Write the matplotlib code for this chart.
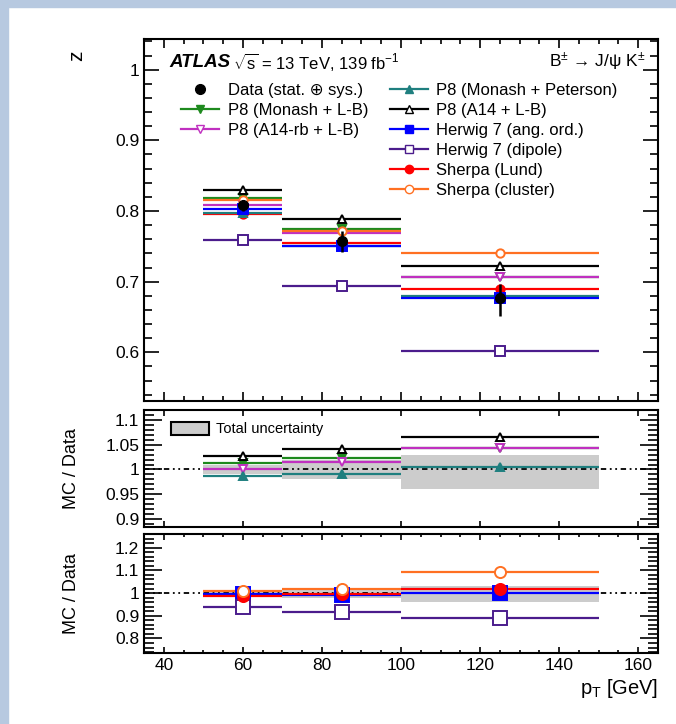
import matplotlib
matplotlib.use("Agg")
import matplotlib.pyplot as plt
from matplotlib.lines import Line2D
from matplotlib.patches import Patch, Rectangle
from matplotlib.ticker import MultipleLocator, FuncFormatter
import numpy as np

plt.rcParams["font.family"] = ["Liberation Sans", "DejaVu Sans"]
plt.rcParams["mathtext.fontset"] = "custom"
plt.rcParams["mathtext.rm"] = "Liberation Sans"
plt.rcParams["mathtext.it"] = "Liberation Sans:italic"
plt.rcParams["mathtext.bf"] = "Liberation Sans:bold"

# pT bins [GeV]
bin_edges = np.array([50, 70, 100, 150])

# mean z per bin
data_z = np.array([0.808, 0.757, 0.677])
data_err_up = np.array([0.008, 0.015, 0.020])
data_err_dn = np.array([0.008, 0.015, 0.026])

p8_monash_lb = np.array([0.818, 0.775, 0.707])
p8_a14rb_lb = np.array([0.809, 0.769, 0.706])
p8_monash_pet = np.array([0.797, 0.750, 0.680])
p8_a14_lb = np.array([0.830, 0.788, 0.722])
hw7_angord = np.array([0.803, 0.750, 0.677])
hw7_dipole = np.array([0.759, 0.694, 0.602])
sherpa_lund = np.array([0.796, 0.754, 0.689])
sherpa_cluster = np.array([0.816, 0.772, 0.741])

# (label, values, colour, marker, open marker?)
p8_models = [
    ("P8 (Monash + L-B)", p8_monash_lb, "#1e8a1e", "v", False),
    ("P8 (A14-rb + L-B)", p8_a14rb_lb, "#c030c0", "v", True),
    ("P8 (Monash + Peterson)", p8_monash_pet, "#1f7f7f", "^", False),
    ("P8 (A14 + L-B)", p8_a14_lb, "#000000", "^", True),
]
other_models = [
    ("Herwig 7 (ang. ord.)", hw7_angord, "#0000ff", "s", False),
    ("Herwig 7 (dipole)", hw7_dipole, "#4b1c8c", "s", True),
    ("Sherpa (Lund)", sherpa_lund, "#ff0000", "o", False),
    ("Sherpa (cluster)", sherpa_cluster, "#ff7022", "o", True),
]

centers = 0.5 * (bin_edges[:-1] + bin_edges[1:])
halfw = 0.5 * np.diff(bin_edges)

W, H = 676, 724
fig = plt.figure(figsize=(W / 100, H / 100), dpi=100)
fig.patches.append(Rectangle((0, 0), 8 / W, 1, transform=fig.transFigure,
                             color="#b7c9e0", zorder=-10))
fig.patches.append(Rectangle((0, 1 - 7 / H), 1, 7 / H, transform=fig.transFigure,
                             color="#b7c9e0", zorder=-10))


def axes_px(top, bottom, left=144, right=658):
    return fig.add_axes([left / W, 1 - bottom / H, (right - left) / W, (bottom - top) / H])


ax = axes_px(39, 401)
ax_r1 = axes_px(410, 527)
ax_r2 = axes_px(534, 653)

fmt = FuncFormatter(lambda v, p: f"{v:g}")


def draw_model(a, vals, color, marker, hollow, ms=6):
    if marker == "s":
        ms += 1.5
    a.errorbar(centers, vals, xerr=halfw, fmt=marker, color=color, ms=ms,
               mfc="white" if hollow else color, mec=color, mew=1.4,
               lw=1.6, capsize=0, zorder=3)


# ── main panel ──
draw_order = [other_models[2], p8_models[2], other_models[0], p8_models[0],
              p8_models[1], other_models[3], p8_models[3], other_models[1]]
for label, vals, color, marker, hollow in draw_order:
    draw_model(ax, vals, color, marker, hollow)
ax.errorbar(centers, data_z, yerr=[data_err_dn, data_err_up], fmt="o", color="k",
            ms=7, lw=1.8, capsize=0, zorder=5)

ax.set_xlim(35, 165)
ax.set_ylim(0.531, 1.0435)
ax.yaxis.set_major_locator(MultipleLocator(0.1))
ax.yaxis.set_minor_locator(MultipleLocator(0.02))
ax.xaxis.set_major_locator(MultipleLocator(20))
ax.xaxis.set_minor_locator(MultipleLocator(5))
ax.yaxis.set_major_formatter(fmt)
ax.tick_params(axis="x", labelbottom=False)

ax.text(0.05, 0.936, "ATLAS", transform=ax.transAxes, fontsize=13.5,
        fontweight="bold", fontstyle="italic", va="center")
ax.text(0.173, 0.936, r"$\sqrt{\mathrm{s}}$ = 13 TeV, 139 fb$^{-1}$",
        transform=ax.transAxes, fontsize=12, va="center")
ax.text(0.975, 0.936, r"B$^{\pm}$ → J/ψ K$^{\pm}$", transform=ax.transAxes,
        fontsize=12.5, va="center", ha="right")

left_handles = [Line2D([], [], marker="o", color="k", ls="none", ms=7)]
left_labels = ["Data (stat. ⊕ sys.)"]
for label, vals, color, marker, hollow in p8_models[:2]:
    left_handles.append(Line2D([], [], marker=marker, color=color, lw=1.6, ms=6,
                               mfc="white" if hollow else color, mec=color))
    left_labels.append(label)
right_handles, right_labels = [], []
for label, vals, color, marker, hollow in p8_models[2:] + other_models:
    right_handles.append(Line2D([], [], marker=marker, color=color, lw=1.6, ms=6,
                                mfc="white" if hollow else color, mec=color))
    right_labels.append(label)

leg_kw = dict(frameon=False, fontsize=12, borderpad=0, borderaxespad=0,
              handlelength=2.3, handletextpad=0.5, labelspacing=0.3, loc="upper left")
leg1 = ax.legend(left_handles, left_labels, bbox_to_anchor=(0.072, 0.879), **leg_kw)
ax.add_artist(leg1)
ax.legend(right_handles, right_labels, bbox_to_anchor=(0.478, 0.879), **leg_kw)

fig.text(77 / W, 1 - 56 / H, "z", rotation=90, ha="center", va="center", fontsize=15)

# ── ratio panels ──
rel_up = data_err_up / data_z
rel_dn = data_err_dn / data_z

for a, models in ((ax_r1, p8_models), (ax_r2, other_models)):
    a.bar(centers, rel_up + rel_dn, bottom=1 - rel_dn, width=2 * halfw,
          color="#cccccc", lw=0, zorder=1)
    a.axhline(1.0, color="k", lw=1.3, dashes=(3, 2, 1, 2, 1, 2), zorder=2)
    for label, vals, color, marker, hollow in models:
        draw_model(a, vals / data_z, color, marker, hollow,
                   ms=6 if a is ax_r1 else 8)
    a.set_xlim(35, 165)
    a.xaxis.set_major_locator(MultipleLocator(20))
    a.yaxis.set_major_formatter(fmt)
    a.set_ylabel("MC / Data", fontsize=13)
    a.yaxis.set_label_coords(-0.125, 0.5)

ax_r1.set_ylim(0.884, 1.12)
ax_r1.yaxis.set_major_locator(MultipleLocator(0.05))
ax_r1.yaxis.set_minor_locator(MultipleLocator(0.01))
ax_r1.tick_params(axis="x", labelbottom=False)
ax_r1.legend([Patch(facecolor="#cccccc", edgecolor="k", lw=1.5)], ["Total uncertainty"],
             loc="upper left", bbox_to_anchor=(0.052, 0.9), frameon=False,
             fontsize=10.5, borderpad=0, borderaxespad=0, handlelength=2.6,
             handleheight=1.0, handletextpad=0.5)

ax_r2.set_ylim(0.736, 1.26)
ax_r2.yaxis.set_major_locator(MultipleLocator(0.1))
ax_r2.yaxis.set_minor_locator(MultipleLocator(0.02))
ax_r2.xaxis.set_minor_locator(MultipleLocator(5))
ax_r2.set_xlabel(r"p$_{\mathrm{T}}$ [GeV]", fontsize=14.5, ha="right")
ax_r2.xaxis.set_label_coords(1.0, -0.2)

for a in (ax, ax_r1, ax_r2):
    for s in a.spines.values():
        s.set_linewidth(1.5)
    a.tick_params(which="both", direction="in", top=True, right=True, width=1.2,
                  labelsize=12.5, colors="k")
    a.tick_params(axis="y", which="major", length=11)
    a.tick_params(axis="y", which="minor", length=5.5)
    a.tick_params(axis="x", which="major", length=6.5)
    a.tick_params(axis="x", which="minor", length=3.5)
for a in (ax_r1, ax_r2):
    a.tick_params(axis="y", which="major", length=13)
    a.tick_params(axis="y", which="minor", length=7)
    a.tick_params(axis="x", which="major", length=4)
    a.tick_params(axis="x", which="minor", length=2.5)

fig.savefig("out.png", dpi=100)
